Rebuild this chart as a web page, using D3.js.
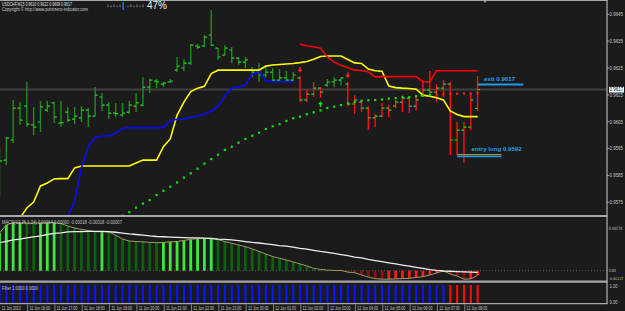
<!DOCTYPE html>
<html><head><meta charset="utf-8">
<script src="https://cdn.jsdelivr.net/npm/d3@7"></script>
<style>html,body{margin:0;padding:0;background:#1b1b1b;overflow:hidden}svg{display:block}</style>
</head><body><svg id="c" width="625" height="311"></svg>
<script>
// ---------------- DATA ----------------
const symbolInfo = "USDCHF,M15  0.9610 0.9622 0.9609 0.9617";
const copyrightText = "Copyright \u00A9 http://www.pointzero-indicator.com";
const strengthText = "47%";
const macdTitle = "MACD(12,26,1,24) 0.00164 0.00000 -0.00018 -0.00018 -0.00007";
const filterTitle = "Filter 1.0000 0.0000";

const open = [0.95814,0.95907,0.95982,0.96101,0.96108,0.96038,0.96049,0.96093,0.96120,0.96045,
0.96086,0.96060,0.96064,0.96093,0.96071,0.96142,0.96112,0.96082,0.96075,0.96086,
0.96108,0.96112,0.96179,0.96201,0.96190,0.96198,0.96242,0.96250,0.96268,0.96332,
0.96332,0.96373,0.96324,0.96298,0.96317,0.96287,0.96272,0.96242,0.96235,0.96224,
0.96235,0.96205,0.96213,0.96205,0.96213,0.96131,0.96153,0.96175,0.96186,0.96198,
0.96205,0.96190,0.96116,0.96123,0.96101,0.96064,0.96071,0.96101,0.96108,0.96123,
0.96138,0.96108,0.96146,0.96168,0.96160,0.96175,0.96190,0.95982,0.96019,0.96030,
0.96100];
const high = [0.95952,0.95993,0.96131,0.96123,0.96198,0.96105,0.96127,0.96127,0.96123,0.96127,
0.96105,0.96105,0.96108,0.96101,0.96179,0.96157,0.96123,0.96120,0.96120,0.96127,
0.96157,0.96216,0.96209,0.96209,0.96198,0.96209,0.96291,0.96283,0.96339,0.96339,
0.96373,0.96466,0.96324,0.96335,0.96328,0.96291,0.96291,0.96254,0.96268,0.96254,
0.96250,0.96246,0.96239,0.96235,0.96220,0.96168,0.96198,0.96179,0.96209,0.96216,
0.96216,0.96198,0.96149,0.96131,0.96108,0.96079,0.96120,0.96112,0.96131,0.96149,
0.96142,0.96149,0.96198,0.96239,0.96190,0.96205,0.96198,0.96049,0.96049,0.96157,
0.96220];
const low = [0.95770,0.95889,0.95971,0.96038,0.96030,0.96000,0.96012,0.96086,0.96045,0.96030,
0.96049,0.96041,0.96049,0.96030,0.96071,0.96090,0.96060,0.96067,0.96067,0.96079,
0.96086,0.96108,0.96157,0.96175,0.96179,0.96194,0.96235,0.96239,0.96261,0.96321,
0.96328,0.96332,0.96280,0.96298,0.96268,0.96261,0.96250,0.96216,0.96198,0.96216,
0.96198,0.96198,0.96198,0.96201,0.96123,0.96123,0.96142,0.96138,0.96179,0.96179,
0.96186,0.96108,0.96079,0.96086,0.96019,0.96030,0.96067,0.96067,0.96101,0.96086,
0.96082,0.96093,0.96142,0.96142,0.96123,0.96142,0.95926,0.95926,0.95896,0.96019,
0.96090];
const close = [0.95904,0.95989,0.96101,0.96056,0.96041,0.96030,0.96105,0.96108,0.96067,0.96047,
0.96056,0.96071,0.96093,0.96071,0.96149,0.96112,0.96082,0.96080,0.96082,0.96112,
0.96120,0.96179,0.96205,0.96198,0.96194,0.96201,0.96257,0.96268,0.96335,0.96328,
0.96365,0.96335,0.96291,0.96324,0.96287,0.96272,0.96280,0.96235,0.96224,0.96235,
0.96205,0.96213,0.96205,0.96224,0.96131,0.96153,0.96175,0.96160,0.96198,0.96205,
0.96213,0.96116,0.96131,0.96101,0.96064,0.96071,0.96101,0.96093,0.96123,0.96138,
0.96108,0.96131,0.96168,0.96160,0.96175,0.96190,0.95982,0.96019,0.96030,0.96131,
0.96170];
const redBars = [44,45,46,47,51,52,53,54,55,56,57,58,59,60,61,62,63,64,65,66,67,68,69,70];

const yellowLine = [0.95535,0.95591,0.95639,0.95691,0.95729,0.95751,0.95811,0.95822,0.95837,0.95838,
0.95838,0.95878,0.95885,0.95885,0.95885,0.95885,0.95885,0.95885,0.95885,0.95885,
0.95896,0.95907,0.95907,0.95907,0.95957,0.95986,0.96075,0.96123,0.96162,0.96175,
0.96182,0.96229,0.96242,0.96242,0.96242,0.96242,0.96242,0.96242,0.96242,0.96257,
0.96261,0.96263,0.96265,0.96267,0.96270,0.96274,0.96283,0.96293,0.96295,0.96295,
0.96295,0.96282,0.96269,0.96267,0.96246,0.96240,0.96238,0.96183,0.96177,0.96175,
0.96174,0.96171,0.96149,0.96145,0.96139,0.96131,0.96090,0.96077,0.96069,0.96069,
0.96069];
const blueStart = 9;
const blueLine = [0.95591,0.95695,0.95755,0.95879,0.95959,0.95991,0.95997,0.95997,0.96007,0.96025,
0.96028,0.96028,0.96028,0.96028,0.96028,0.96028,0.96054,0.96059,0.96059,0.96067,
0.96071,0.96078,0.96090,0.96108,0.96146,0.96175,0.96179,0.96186,0.96227,0.96236,
0.96203,0.96199,0.96199,0.96199,0.96199];
const redStart = 44;
const redLine = [0.96339,0.96332,0.96329,0.96324,0.96291,0.96272,0.96260,0.96251,0.96242,0.96241,
0.96236,0.96217,0.96218,0.96218,0.96218,0.96218,0.96218,0.96218,0.96199,0.96199,
0.96240,0.96240,0.96240,0.96240,0.96240,0.96240,0.96240];
const dotStart = 18;
const dotLine = [0.95700,0.95713,0.95730,0.95745,0.95758,0.95777,0.95793,0.95808,0.95824,0.95842,
0.95858,0.95875,0.95894,0.95911,0.95927,0.95945,0.95957,0.95972,0.95986,0.95998,
0.96009,0.96023,0.96033,0.96041,0.96053,0.96063,0.96069,0.96078,0.96085,0.96092,
0.96101,0.96106,0.96112,0.96118,0.96124,0.96128,0.96130,0.96131,0.96133,0.96136,
0.96138,0.96141,0.96142,0.96145,0.96147,0.96149,0.96151,0.96152,0.96153,0.96154,
0.96155,0.96155,0.96155];
const redDotStart = 64;

const sellArrows = [{bar:44, price:0.96242}, {bar:51, price:0.96222}];
const buyArrows = [{bar:47, price:0.96116}];

const exitLabel = {text:"exit 0.9617", price:0.96189, from:70, to:76.7};
const entryLabel = {text:"entry long 0.9592", price:0.95921, price2:0.95928, from:67, to:73.5};
const bidPrice = 0.9617;

const macdHist = [0.00133,0.00162,0.00170,0.00170,0.00169,0.00168,0.00169,0.00170,0.00170,0.00167,
0.00158,0.00151,0.00146,0.00142,0.00138,0.00138,0.00137,0.00126,0.00112,0.00105,
0.00103,0.00102,0.00100,0.00099,0.00100,0.00102,0.00103,0.00107,0.00111,0.00113,
0.00114,0.00114,0.00110,0.00103,0.00097,0.00091,0.00085,0.00077,0.00068,0.00059,
0.00050,0.00044,0.00038,0.00031,0.00024,0.00017,0.00008,0.00005,0.00002,0.00001,
0.00001,-0.00005,-0.00007,-0.00015,-0.00023,-0.00028,-0.00030,-0.00030,-0.00029,-0.00028,
-0.00027,-0.00024,-0.00021,-0.00015,-0.00008,-0.00001,-0.00012,-0.00019,-0.00030,-0.00029,
-0.00016];
const macdSignal = [0.00099,0.00104,0.00109,0.00112,0.00116,0.00120,0.00123,0.00128,0.00132,0.00134,
0.00137,0.00138,0.00138,0.00139,0.00139,0.00139,0.00138,0.00136,0.00133,0.00130,
0.00128,0.00126,0.00123,0.00121,0.00120,0.00119,0.00118,0.00117,0.00116,0.00116,
0.00115,0.00114,0.00112,0.00111,0.00109,0.00106,0.00103,0.00100,0.00098,0.00095,
0.00092,0.00089,0.00087,0.00083,0.00079,0.00076,0.00072,0.00068,0.00065,0.00061,
0.00057,0.00053,0.00048,0.00045,0.00040,0.00036,0.00032,0.00028,0.00024,0.00020,
0.00016,0.00012,0.00008,0.00004,0.00001,-0.00001,-0.00002,-0.00003,-0.00004,-0.00005,
-0.00006];
const filterValues = [1,1,1,1,1,1,1,1,1,1, 1,1,1,1,1,1,1,1,1,1, 1,1,1,1,1,1,1,1,1,1,
1,1,1,1,1,1,1,1,1,1, 1,1,1,1,1,1,1,1,1,1, 1,1,1,1,1,1,1,1,1,1, 1,1,1,1,1,1,1,1,1,1, 1];
const filterRed = [66,67,68,69,70];

const priceTicks = [0.9645,0.9635,0.9625,0.9615,0.9605,0.9595,0.9585,0.9575];
const macdTicks = [{label:"0.00174", v:0.00174}, {label:"0.00", v:0}, {label:"-0.00117", v:-0.00117}];
const filterTicks = [{label:"1.00", v:1}, {label:"0.00", v:0}];
const timeLabels = ["11 Jun 2013","11 Jun 16:00","11 Jun 17:00","11 Jun 18:00","11 Jun 19:00","11 Jun 20:00",
"11 Jun 21:00","11 Jun 22:00","11 Jun 23:00","12 Jun 00:00","12 Jun 01:00","12 Jun 02:00","12 Jun 03:00",
"12 Jun 04:00","12 Jun 05:00","12 Jun 06:00","12 Jun 07:00","12 Jun 08:00"];
const barsPerLabel = 4;

// ---------------- DRAW ----------------
const W = 625, H = 311, PR = 607;
const svg = d3.select("#c");
const FONT = "Liberation Sans, Arial, sans-serif";
const NARROW = "Liberation Sans Narrow, DejaVu Sans Condensed, sans-serif";
const TXT = "#c8c8c8";

const x = d3.scaleLinear().domain([0, 70]).range([-0.5, 477.6]);
const y = d3.scaleLinear().domain([0.9575, 0.9645]).range([202.3, 14.3]);
const yM = d3.scaleLinear().domain([0, 0.00174]).range([270.7, 221.5]);
const yF = d3.scaleLinear().domain([0, 1]).range([303, 285]);

svg.append("rect").attr("width", W).attr("height", H).attr("fill", "#1b1b1b");

const defs = svg.append("defs");
defs.append("clipPath").attr("id", "cm").append("rect").attr("x", 0).attr("y", 1).attr("width", PR).attr("height", 214.5);
defs.append("clipPath").attr("id", "cmacd").append("rect").attr("x", 0).attr("y", 218).attr("width", PR).attr("height", 62.5);

// main panel
const main = svg.append("g").attr("clip-path", "url(#cm)");
main.append("line").attr("x1", 0).attr("x2", PR).attr("y1", y(bidPrice)).attr("y2", y(bidPrice))
  .attr("stroke", "#404040").attr("stroke-width", 2);

const idx = d3.range(open.length);
const isRed = new Set(redBars);
const bars = main.append("g");
bars.selectAll("line.hl").data(idx).join("line")
  .attr("x1", i => x(i)).attr("x2", i => x(i)).attr("y1", i => y(high[i])).attr("y2", i => y(low[i]))
  .attr("stroke", i => isRed.has(i) ? "#ff1010" : "#1e8c1e").attr("stroke-width", 1.4);
bars.selectAll("line.o").data(idx).join("line")
  .attr("x1", i => x(i) - 2.6).attr("x2", i => x(i)).attr("y1", i => y(open[i])).attr("y2", i => y(open[i]))
  .attr("stroke", "#2ed02e").attr("stroke-width", 1.2);
bars.selectAll("line.c").data(idx).join("line")
  .attr("x1", i => x(i)).attr("x2", i => x(i) + 2.6).attr("y1", i => y(close[i])).attr("y2", i => y(close[i]))
  .attr("stroke", "#2ed02e").attr("stroke-width", 1.2);

const lineGen = d3.line().x(d => x(d.i)).y(d => y(d.v));
main.append("path").datum(yellowLine.map((v, i) => ({i, v})))
  .attr("d", lineGen).attr("fill", "none").attr("stroke", "#ffff00").attr("stroke-width", 1.6);
main.append("path").datum(blueLine.map((v, k) => ({i: k + blueStart, v})))
  .attr("d", lineGen).attr("fill", "none").attr("stroke", "#0a0aff").attr("stroke-width", 1.6);
main.append("path").datum(redLine.map((v, k) => ({i: k + redStart, v})))
  .attr("d", lineGen).attr("fill", "none").attr("stroke", "#ff0000").attr("stroke-width", 1.6);

main.selectAll("rect.dot").data(dotLine.map((v, k) => ({i: k + dotStart, v}))).join("rect")
  .attr("x", d => x(d.i) - 1.1).attr("y", d => y(d.v) - 1.1).attr("width", 2.2).attr("height", 2.2)
  .attr("fill", d => d.i >= redDotStart ? "#ff1a1a" : "#12e012");

function arrow(g, cx, cy, dir, color) {
  const p = d3.path();
  p.moveTo(cx, cy); p.lineTo(cx - 2.6, cy - 2.8 * dir); p.lineTo(cx - 0.8, cy - 2.8 * dir);
  p.lineTo(cx - 0.8, cy - 5.6 * dir); p.lineTo(cx + 0.8, cy - 5.6 * dir); p.lineTo(cx + 0.8, cy - 2.8 * dir);
  p.lineTo(cx + 2.6, cy - 2.8 * dir); p.closePath();
  g.append("path").attr("d", p.toString()).attr("fill", color);
}
sellArrows.forEach(a => arrow(main, x(a.bar), y(a.price) + 2.5, 1, "#ff2020"));
buyArrows.forEach(a => arrow(main, x(a.bar), y(a.price) - 2.5, -1, "#22dd22"));

main.append("line").attr("x1", x(exitLabel.from)).attr("x2", x(exitLabel.to))
  .attr("y1", y(exitLabel.price)).attr("y2", y(exitLabel.price)).attr("stroke", "#1e9be8").attr("stroke-width", 2);
main.append("text").attr("x", x(exitLabel.from) + 6.5).attr("y", y(exitLabel.price) - 3.8)
  .attr("font-family", FONT).attr("font-size", 6.2).attr("font-weight", "bold").attr("fill", "#2a9fe6")
  .attr("textLength", 31).attr("lengthAdjust", "spacingAndGlyphs").text(exitLabel.text);
main.append("line").attr("x1", x(entryLabel.from)).attr("x2", x(entryLabel.to))
  .attr("y1", y(entryLabel.price2)).attr("y2", y(entryLabel.price2)).attr("stroke", "#a09a20").attr("stroke-width", 1.2);
main.append("line").attr("x1", x(entryLabel.from)).attr("x2", x(entryLabel.to))
  .attr("y1", y(entryLabel.price)).attr("y2", y(entryLabel.price)).attr("stroke", "#1e9be8").attr("stroke-width", 1.8);
main.append("text").attr("x", x(entryLabel.from) + 14.5).attr("y", y(entryLabel.price) - 5.3)
  .attr("font-family", FONT).attr("font-size", 6.2).attr("font-weight", "bold").attr("fill", "#2a9fe6")
  .attr("textLength", 50).attr("lengthAdjust", "spacingAndGlyphs").text(entryLabel.text);

svg.append("text").attr("x", 2).attr("y", 6).attr("font-family", FONT).attr("font-size", 5.2).attr("fill", "#e0e0e0")
  .attr("textLength", 70).attr("lengthAdjust", "spacingAndGlyphs").text(symbolInfo);
svg.append("text").attr("x", 2).attr("y", 10.8).attr("font-family", FONT).attr("font-size", 4.8).attr("fill", "#d0d0d0")
  .attr("textLength", 86).attr("lengthAdjust", "spacingAndGlyphs").text(copyrightText);
const tickOffsets = [0, 3, 6, 9, 12, 20, 23, 26, 29, 32, 35];
svg.selectAll("line.mini").data(tickOffsets).join("line")
  .attr("x1", d => 108 + d).attr("x2", d => 108 + d).attr("y1", (d, k) => k % 2 ? 5.5 : 4.5).attr("y2", 7.2)
  .attr("stroke", "#9a9a9a").attr("stroke-width", 0.8);
svg.append("rect").attr("x", 122.4).attr("y", 2).attr("width", 1.6).attr("height", 8).attr("fill", "#2266ff");
svg.append("text").attr("x", 147).attr("y", 9).attr("font-family", FONT).attr("font-size", 10).attr("fill", "#f0f0f0")
  .text(strengthText);
svg.append("path").attr("d", "M483,0.5 L487,0.5 L485,3 Z").attr("fill", "#8a8a8a");

// MACD panel
const macd = svg.append("g").attr("clip-path", "url(#cmacd)");
macd.append("line").attr("x1", 0).attr("x2", PR).attr("y1", yM(0)).attr("y2", yM(0))
  .attr("stroke", "#6a6a6a").attr("stroke-width", 0.8).attr("stroke-dasharray", "1,2");
macd.selectAll("rect.h").data(idx).join("rect")
  .attr("x", i => x(i) - 1.4).attr("width", 2.8)
  .attr("y", i => Math.min(yM(0), yM(macdHist[i])))
  .attr("height", i => Math.max(0.6, Math.abs(yM(macdHist[i]) - yM(0))))
  .attr("fill", i => {
    const up = i === 0 || macdHist[i] >= macdHist[i - 1];
    if (macdHist[i] >= 0) return up ? "#3ce83c" : "#0d600d";
    return up ? "#ff1c1c" : "#8e1010";
  });
macd.append("path").datum(macdHist.map((v, i) => ({i, v})))
  .attr("d", d3.line().x(d => x(d.i)).y(d => yM(d.v))).attr("fill", "none").attr("stroke", "#a09a66").attr("stroke-width", 1);
macd.append("path").datum(macdSignal.map((v, i) => ({i, v})))
  .attr("d", d3.line().x(d => x(d.i)).y(d => yM(d.v))).attr("fill", "none").attr("stroke", "#eeeeee").attr("stroke-width", 1.3);
svg.append("text").attr("x", 2).attr("y", 224).attr("font-family", FONT).attr("font-size", 5).attr("fill", TXT)
  .attr("textLength", 120).attr("lengthAdjust", "spacingAndGlyphs").text(macdTitle);

// Filter panel
const isFR = new Set(filterRed);
svg.selectAll("rect.f").data(idx).join("rect")
  .attr("x", i => x(i) - 1).attr("width", 2.1)
  .attr("y", i => yF(filterValues[i])).attr("height", i => yF(0) - yF(filterValues[i]))
  .attr("fill", i => isFR.has(i) ? "#ff0a0a" : "#0a14ff");
svg.append("text").attr("x", 2).attr("y", 289.5).attr("font-family", FONT).attr("font-size", 5).attr("fill", TXT)
  .attr("textLength", 36).attr("lengthAdjust", "spacingAndGlyphs").text(filterTitle);

// panel borders
const BC = "#a8a8a8";
[[0.5, 1], [216, 2], [281.6, 2.2], [303.6, 1.3]].forEach(([yy, w]) =>
  svg.append("line").attr("x1", 0).attr("x2", PR + 0.5).attr("y1", yy).attr("y2", yy).attr("stroke", BC).attr("stroke-width", w));
svg.append("line").attr("x1", PR).attr("x2", PR).attr("y1", 0).attr("y2", 304).attr("stroke", BC).attr("stroke-width", 1.3);

// right axis
const axisG = svg.append("g");
priceTicks.forEach(p => {
  axisG.append("line").attr("x1", PR).attr("x2", PR + 2.5).attr("y1", y(p)).attr("y2", y(p)).attr("stroke", BC).attr("stroke-width", 0.8);
  axisG.append("text").attr("x", 609.5).attr("y", y(p) + 1.8).attr("font-family", FONT).attr("font-size", 5).attr("fill", TXT)
    .attr("textLength", 13.5).attr("lengthAdjust", "spacingAndGlyphs").text(p.toFixed(4));
});
axisG.append("rect").attr("x", 609).attr("y", y(bidPrice) - 2.6).attr("width", 15).attr("height", 5.6).attr("fill", "#ffffff");
axisG.append("text").attr("x", 609.6).attr("y", y(bidPrice) + 1.9).attr("font-family", FONT).attr("font-size", 5).attr("fill", "#000")
  .attr("textLength", 13.5).attr("lengthAdjust", "spacingAndGlyphs").text(bidPrice.toFixed(4));

const macdLabelY = [229.6, 271.9, 279.6];
const macdLabelW = [13.5, 7, 14.5];
const macdLabelFs = [4.4, 4.4, 3.7];
macdTicks.forEach((t, k) => {
  axisG.append("text").attr("x", 608.8).attr("y", macdLabelY[k]).attr("font-family", NARROW).attr("font-size", macdLabelFs[k]).attr("fill", TXT)
    .attr("textLength", macdLabelW[k]).attr("lengthAdjust", "spacingAndGlyphs").text(t.label);
});
filterTicks.forEach(t => {
  const yy = t.v === 1 ? yF(t.v) + 2.5 : yF(t.v) + 0.8;
  axisG.append("text").attr("x", 609.5).attr("y", yy).attr("font-family", FONT).attr("font-size", 5).attr("fill", TXT)
    .attr("textLength", 8).attr("lengthAdjust", "spacingAndGlyphs").text(t.label);
});

// time axis
timeLabels.forEach((t, k) => {
  const bx = k === 0 ? 0 : x(k * barsPerLabel) + 0.8;
  if (k > 0) axisG.append("line").attr("x1", bx).attr("x2", bx).attr("y1", 304.5).attr("y2", 311).attr("stroke", "#9a9a9a").attr("stroke-width", 0.8);
  axisG.append("text").attr("x", bx + 1.8).attr("y", 310.3).attr("font-family", FONT).attr("font-size", 4.8).attr("fill", TXT)
    .attr("textLength", t.length * 1.72).attr("lengthAdjust", "spacingAndGlyphs").text(t);
});
</script>
</body></html>
